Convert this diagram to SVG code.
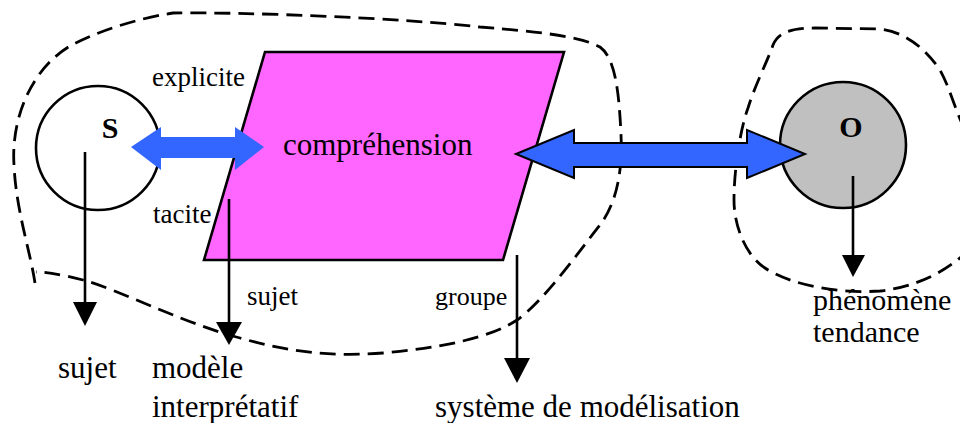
<svg xmlns="http://www.w3.org/2000/svg" width="960" height="423" viewBox="0 0 960 423">
<style>
text{font-family:"Liberation Serif","Times New Roman",serif;fill:#000}
.s{font-size:27px}
.l{font-size:31px}
.b{font-size:30px;font-weight:bold;text-anchor:middle}
.node{stroke:#000;stroke-width:2.6}
.blob{fill:none;stroke:#000;stroke-width:2.8;stroke-dasharray:16 8}
.dbl{fill:#3366FF}
.down line{stroke:#000;stroke-width:2.6}
.down polygon{fill:#000}
</style>
<rect width="960" height="423" fill="#fff"/>
<g id="nodes">
<g id="S">
<circle class="node" cx="98" cy="148" r="62" fill="#fff"/>
<text class="b" x="110" y="138">S</text>
</g>
<g id="comprehension">
<polygon class="node" points="265,52 564,52 503,260 204,260" fill="#FF66FF"/>
<text class="l" x="283" y="155">compréhension</text>
</g>
<g id="O">
<circle class="node" cx="843" cy="145" r="63" fill="#C0C0C0"/>
<text class="b" x="851" y="137">O</text>
</g>
<g id="labels">
<text class="s" x="152" y="86">explicite</text>
<text class="s" x="153" y="223">tacite</text>
<text class="s" x="247" y="305">sujet</text>
<text class="s" x="435" y="305" style="font-size:26px">groupe</text>
<text class="l" x="58" y="378">sujet</text>
<text class="l" x="152" y="378">modèle</text>
<text class="l" x="152" y="417">interprétatif</text>
<text class="l" x="435" y="417">système de modélisation</text>
<text class="l" x="813" y="310" style="font-size:30px">phénomène</text>
<text class="l" x="813" y="342" style="font-size:30px">tendance</text>
</g>
</g>
<g id="boundaries">
<path class="blob" d="M35,283 C30,250 16,210 14,165 C11,120 30,70 70,46 C100,30 140,18 173,13 C250,12 400,18 480,27 C540,32 580,36 600,47 C615,58 619,90 621,135 C623,175 615,205 600,225 C580,250 545,300 517,320 C490,338 440,348 383,353 C330,357 290,352 240,338 C180,322 120,290 83,280 C60,274 45,272 36,272"/>
<path class="blob" d="M985,230 C965,260 930,285 880,291 C840,294 790,285 765,268 C745,255 734,225 734,200 C734,170 740,130 748,108 C755,85 768,60 773,45 C778,33 790,28 815,28 L880,29 C905,32 925,48 940,70 C950,88 955,110 965,130 C975,150 990,180 985,230 Z"/>
</g>
<g id="connectors">
<polygon class="dbl" points="131,147 161,127 161,137 235,137 235,127 264,147 235,170 235,158 161,158 161,170"/>
<polygon class="dbl" stroke="#000" stroke-width="2" stroke-linejoin="miter" points="516,154 574,130 574,143 747,143 747,130 805,154 747,178 747,167 574,167 574,178"/>
<g class="down">
<line x1="85" y1="152" x2="85" y2="303"/>
<polygon points="73,302 97,302 85,326"/>
<line x1="229" y1="199" x2="229" y2="323"/>
<polygon points="216,322 242,322 229,345"/>
<line x1="517" y1="255" x2="517" y2="359"/>
<polygon points="504,358 530,358 517,383"/>
<line x1="853" y1="176" x2="853" y2="256"/>
<polygon points="842,255 865,255 853,277"/>
</g>
</g>
</svg>
